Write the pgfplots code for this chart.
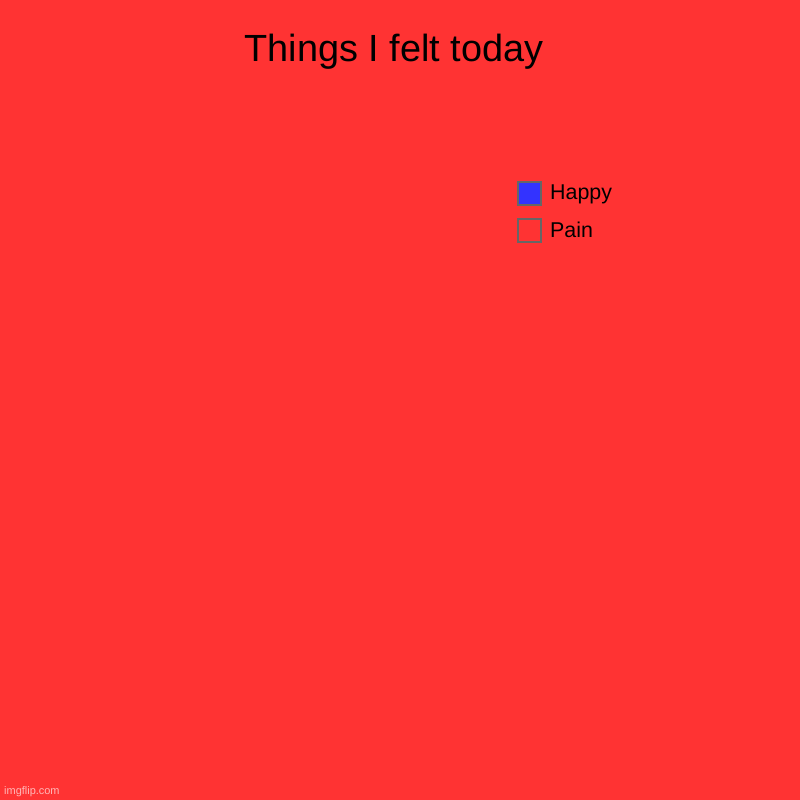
\documentclass[border=0pt]{standalone}
\usepackage{pgfplots}
\pgfplotsset{compat=1.18}
\usepackage{fontspec}
\setmainfont{Liberation Sans}
\definecolor{bgred}{HTML}{FF3333}
\definecolor{happyblue}{HTML}{3333FF}
\definecolor{boxgray}{HTML}{666666}
\begin{document}
\begin{tikzpicture}[x=1bp,y=1bp]
\path[use as bounding box, fill=bgred] (0,0) rectangle (800,800);
\begin{axis}[
  at={(0,0)}, anchor=south west,
  scale only axis, width=800bp, height=800bp,
  xmin=0, xmax=800, ymin=0, ymax=800,
  hide axis, clip=false,
  legend style={at={(axis cs:517,619.5)}, anchor=north west, draw=none, fill=none,
    font=\fontsize{21.5}{25}\selectfont, inner sep=0pt, row sep=12bp,
    nodes={inner sep=1bp},
    /tikz/every odd column/.append style={column sep=7bp}},
  legend cell align=left,
  legend image code/.code={\draw[#1, draw=boxgray, line width=2bp] (0bp,-11.5bp) rectangle (23bp,11.5bp);},
]
% Pie: Happy = 0, Pain = 100 (the whole disc, in the background colour)
\addplot[forget plot, only marks, mark=*, mark size=150pt, draw=bgred, fill=bgred] coordinates {(400,360)};
\addlegendimage{fill=happyblue}
\addlegendentry{Happy}
\addlegendimage{fill=bgred}
\addlegendentry{Pain}
\node[font=\fontsize{38}{42}\selectfont, anchor=base] at (axis cs:394,738) {Things I felt today};
\node[font=\fontsize{11}{13}\selectfont, text=white!65!bgred, anchor=base west, inner sep=0pt] at (axis cs:4,5) {imgflip.com};
\end{axis}
\end{tikzpicture}
\end{document}
